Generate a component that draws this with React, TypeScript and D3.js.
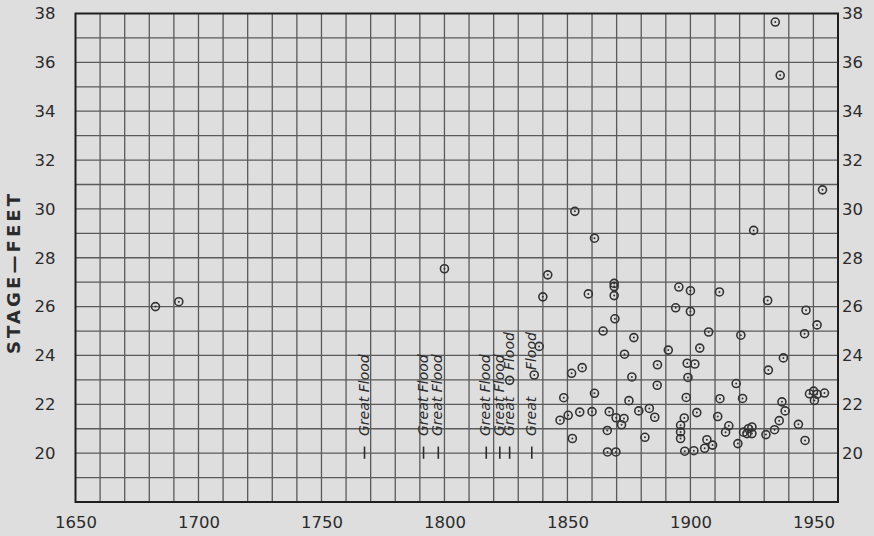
import { useEffect, useRef } from 'react';
import * as d3 from 'd3';

const WIDTH = 874;
const HEIGHT = 536;
const PLOT = { left: 75.5, right: 838, top: 13.5, bottom: 502 };

const YEAR_TICKS = [1650, 1700, 1750, 1800, 1850, 1900, 1950];
const STAGE_TICKS = [20, 22, 24, 26, 28, 30, 32, 34, 36, 38];

// years with a "Great Flood" note (stage unknown, marked at 20 ft)
const FLOOD_YEARS = [1767.5, 1791.5, 1797.5, 1817, 1822.5, 1826.5, 1835.5];
const FLOOD_SPLIT = [false, false, false, false, false, true, true];

// annual peak stages
const YEARS = [
  1682.5, 1692, 1800, 1826.5, 1836.5, 1838.5, 1840, 1842, 1847, 1848.5,
  1850.3, 1852, 1851.7, 1853, 1855, 1856, 1858.5, 1860, 1861, 1861,
  1864.5, 1866.2, 1866.3, 1867, 1869, 1869, 1869, 1869.3, 1869.7, 1869.8,
  1872, 1873, 1873.2, 1875, 1876.2, 1877, 1879, 1881.5, 1883.3, 1885.5,
  1886.5, 1886.6, 1891, 1894, 1895.3, 1896, 1896, 1896, 1897.5, 1897.7,
  1898.3, 1898.7, 1899, 1900, 1900, 1901.4, 1901.8, 1902.6, 1903.8, 1905.8,
  1906.7, 1907.4, 1909, 1911.1, 1911.8, 1912, 1914.3, 1915.6, 1918.6, 1919.3,
  1920.5, 1921.2, 1921.6, 1923, 1923.6, 1925, 1925, 1925.7, 1930.7, 1931.4,
  1931.7, 1934.5, 1934.2, 1936.5, 1936.1, 1937.2, 1937.8, 1938.5, 1943.9, 1946.4,
  1946.6, 1947, 1948.4, 1950.1, 1950.4, 1951.5, 1951.5, 1953.7, 1954.5,
];
const STAGES = [
  26.0, 26.2, 27.55, 22.98, 23.2, 24.37, 26.4, 27.3, 21.35, 22.27,
  21.55, 20.6, 23.27, 29.9, 21.68, 23.5, 26.52, 21.7, 22.45, 28.8,
  25.0, 20.93, 20.05, 21.7, 26.95, 26.82, 26.45, 25.5, 20.05, 21.45,
  21.16, 21.42, 24.05, 22.15, 23.12, 24.73, 21.73, 20.65, 21.83, 21.47,
  22.78, 23.62, 24.22, 25.95, 26.8, 21.14, 20.87, 20.6, 21.44, 20.08,
  22.28, 23.68, 23.1, 26.65, 25.8, 20.1, 23.65, 21.66, 24.3, 20.2,
  20.55, 24.96, 20.33, 21.5, 26.6, 22.23, 20.86, 21.12, 22.85, 20.39,
  24.83, 22.24, 20.86, 20.8, 21.0, 21.07, 20.8, 29.12, 20.76, 26.25,
  23.4, 37.65, 20.96, 35.47, 21.33, 22.1, 23.9, 21.73, 21.18, 24.89,
  20.52, 25.85, 22.43, 22.54, 22.16, 22.41, 25.25, 30.78, 22.46,
];

const INK = '#2b2b2b';
const GRID = '#5a5a5a';
const PAPER = '#dedede';
const FONT = '"DejaVu Sans", sans-serif';

export default function App() {
  const svgRef = useRef<SVGSVGElement>(null);

  useEffect(() => {
    document.body.style.margin = '0';
    const svg = d3.select(svgRef.current);
    svg.selectAll('*').remove();

    const x = d3.scaleLinear().domain([1650, 1960]).range([PLOT.left, PLOT.right]);
    const y = d3.scaleLinear().domain([18, 38]).range([PLOT.bottom, PLOT.top]);

    svg.append('rect').attr('width', WIDTH).attr('height', HEIGHT).attr('fill', PAPER);

    // Grid: 10 years by 1 foot
    const g = svg.append('g');
    g.selectAll('.vgrid')
      .data(d3.range(1660, 1960, 10))
      .join('line')
      .attr('x1', (d) => x(d))
      .attr('x2', (d) => x(d))
      .attr('y1', PLOT.top)
      .attr('y2', PLOT.bottom)
      .attr('stroke', GRID)
      .attr('stroke-width', 1.3);
    g.selectAll('.hgrid')
      .data(d3.range(19, 38, 1))
      .join('line')
      .attr('x1', PLOT.left)
      .attr('x2', PLOT.right)
      .attr('y1', (d) => y(d))
      .attr('y2', (d) => y(d))
      .attr('stroke', GRID)
      .attr('stroke-width', 1.3);

    // Frame
    g.append('rect')
      .attr('x', PLOT.left)
      .attr('y', PLOT.top)
      .attr('width', PLOT.right - PLOT.left)
      .attr('height', PLOT.bottom - PLOT.top)
      .attr('fill', 'none')
      .attr('stroke', '#1e1e1e')
      .attr('stroke-width', 2);

    // Left and right stage labels
    const left = svg.append('g').attr('transform', `translate(${PLOT.left},0)`)
      .call(d3.axisLeft(y).tickValues(STAGE_TICKS).tickSize(0).tickPadding(20).tickFormat(d3.format('d')));
    const right = svg.append('g').attr('transform', `translate(${PLOT.right},0)`)
      .call(d3.axisRight(y).tickValues(STAGE_TICKS).tickSize(0).tickPadding(4).tickFormat(d3.format('d')));
    const bottom = svg.append('g').attr('transform', `translate(0,${PLOT.bottom})`)
      .call(d3.axisBottom(x).tickValues(YEAR_TICKS).tickSize(0).tickPadding(14).tickFormat(d3.format('d')));
    [left, right, bottom].forEach((a) => {
      a.select('.domain').remove();
      a.selectAll('text')
        .style('fill', INK)
        .style('font-family', FONT)
        .style('font-size', '16.5px');
    });

    svg.append('text')
      .attr('transform', `translate(20,274) rotate(-90)`)
      .attr('text-anchor', 'middle')
      .attr('textLength', 160)
      .attr('lengthAdjust', 'spacing')
      .style('font-family', FONT)
      .style('font-weight', 'bold')
      .style('font-size', '18px')
      .style('fill', INK)
      .text('STAGE—FEET');

    // Great Flood notes
    const fl = svg.append('g');
    FLOOD_YEARS.forEach((yr, i) => {
      fl.append('line')
        .attr('x1', x(yr))
        .attr('x2', x(yr))
        .attr('y1', y(20.27))
        .attr('y2', y(19.77))
        .attr('stroke', INK)
        .attr('stroke-width', 1.6);
      const parts = FLOOD_SPLIT[i] ? [['Great', 20.7], ['Flood', 23.4]] : [['Great Flood', 20.7]];
      parts.forEach(([t, s]) => {
        fl.append('text')
          .attr('transform', `translate(${x(yr) + 4},${y(s as number)}) rotate(-90)`)
          .style('font-family', FONT)
          .style('font-style', 'italic')
          .style('font-size', '14px')
          .style('fill', INK)
          .text(t as string);
      });
    });

    // Points
    const pts = svg.append('g');
    const idx = d3.range(YEARS.length);
    pts.selectAll('circle.ring')
      .data(idx)
      .join('circle')
      .attr('class', 'ring')
      .attr('cx', (i) => x(YEARS[i]))
      .attr('cy', (i) => y(STAGES[i]))
      .attr('r', 4)
      .attr('fill', 'none')
      .attr('stroke', '#333')
      .attr('stroke-width', 1.6);
    pts.selectAll('circle.dot')
      .data(idx)
      .join('circle')
      .attr('class', 'dot')
      .attr('cx', (i) => x(YEARS[i]))
      .attr('cy', (i) => y(STAGES[i]))
      .attr('r', 1)
      .attr('fill', '#333');
  }, []);

  return (
    <div style={{ position: 'absolute', left: 0, top: 0 }}>
      <svg ref={svgRef} width={WIDTH} height={HEIGHT} style={{ display: 'block' }} />
    </div>
  );
}
